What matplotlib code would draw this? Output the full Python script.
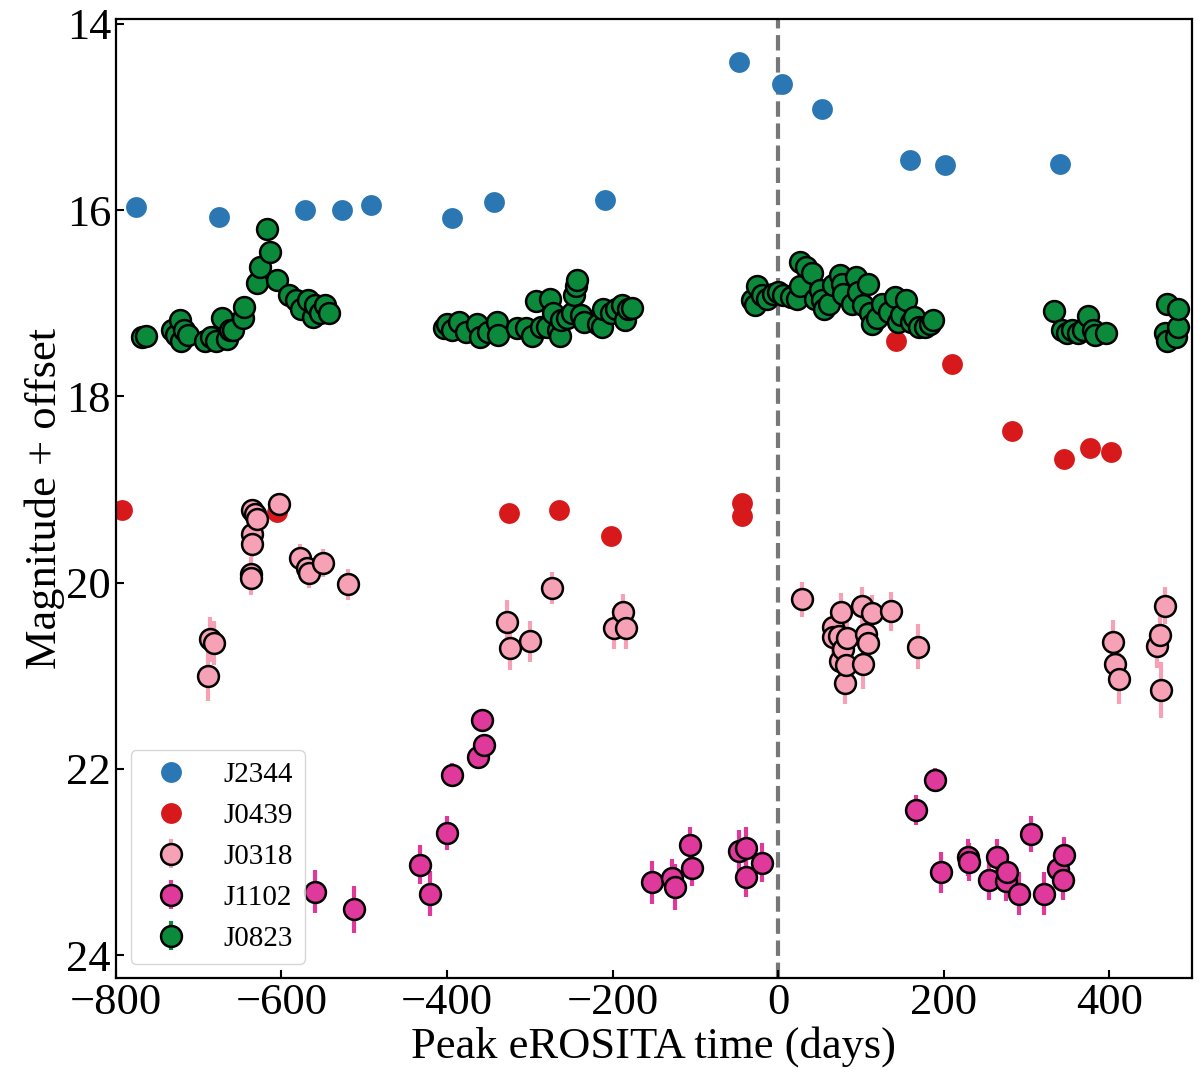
import matplotlib
matplotlib.use("Agg")
import matplotlib.pyplot as plt

plt.rcParams['font.family'] = ['Liberation Serif', 'DejaVu Serif']
plt.rcParams['mathtext.fontset'] = 'stix'

# J2344 (blue, no error bars)
j2344_t = [-776, -676, -571, -527, -492, -394, -343, -209, -47, 5, 53, 159, 202, 340]
j2344_m = [15.97, 16.07, 16.00, 16.00, 15.95, 16.08, 15.91, 15.89, 14.41, 14.64, 14.91,
           15.46, 15.51, 15.50]

# J0439 (red, no error bars)
j0439_t = [-793, -605, -325, -265, -202, -44, -44, 143, 210, 282, 345, 377, 402]
j0439_m = [19.22, 19.24, 19.25, 19.22, 19.50, 19.14, 19.28, 17.41, 17.65, 18.37, 18.67,
           18.55, 18.60]

# J0318 (light pink)
j0318_t = [-689, -686, -682, -637, -637, -635, -635, -635, -632, -629, -603, -578, -569,
           -567, -550, -520, -327, -324, -300, -273, -198, -187, -184, 29, 66, 66, 74,
           74.5, 76, 78, 81, 82, 83, 101, 102, 106, 109, 113, 136, 169, 405, 407, 412,
           458, 461, 462, 468]
j0318_m = [21.00, 20.61, 20.65, 19.91, 19.95, 19.22, 19.48, 19.59, 19.26, 19.32, 19.16,
           19.74, 19.84, 19.90, 19.79, 20.02, 20.42, 20.70, 20.63, 20.06, 20.49, 20.32,
           20.49, 20.18, 20.48, 20.58, 20.57, 20.84, 20.32, 20.71, 21.08, 20.89, 20.60,
           20.25, 20.87, 20.55, 20.65, 20.33, 20.31, 20.69, 20.64, 20.87, 21.03, 20.68,
           20.56, 21.15, 20.25]
j0318_e = [0.27, 0.24, 0.24, 0.18, 0.18, 0.08, 0.10, 0.14, 0.08, 0.10, 0.06, 0.15, 0.15,
           0.16, 0.15, 0.17, 0.23, 0.24, 0.22, 0.17, 0.22, 0.20, 0.22, 0.19, 0.20, 0.20,
           0.20, 0.20, 0.21, 0.20, 0.22, 0.20, 0.20, 0.20, 0.27, 0.20, 0.20, 0.20, 0.21,
           0.24, 0.24, 0.24, 0.27, 0.24, 0.22, 0.30, 0.20]

# J1102 (magenta)
j1102_t = [-559, -512, -433, -420, -400, -394, -362, -355, -358, -152, -128, -125, -107,
           -104, -47, -39, -39, -20, 167, 189, 197, 229, 231, 255, 264, 275, 277, 291,
           305, 321, 338, 344, 345]
j1102_m = [23.32, 23.51, 23.03, 23.34, 22.69, 22.07, 21.87, 21.74, 21.48, 23.22, 23.17,
           23.27, 22.82, 23.06, 22.88, 22.85, 23.16, 23.01, 22.44, 22.12, 23.11, 22.95,
           23.00, 23.19, 22.95, 23.20, 23.11, 23.34, 22.70, 23.34, 23.08, 23.19, 22.93]
j1102_e = [0.23, 0.25, 0.21, 0.24, 0.18, 0.13, 0.10, 0.10, 0.08, 0.23, 0.20, 0.25, 0.20,
           0.20, 0.22, 0.22, 0.22, 0.21, 0.16, 0.13, 0.22, 0.20, 0.20, 0.22, 0.20, 0.22,
           0.20, 0.23, 0.19, 0.23, 0.20, 0.22, 0.20]

# J0823 (green)
j0823_t = [-769, -764, -732, -728, -723, -721, -718, -713, -692, -685, -679, -672, -666,
           -662, -658, -647, -645, -629, -626, -618, -614, -605, -591, -583, -577, -568,
           -562, -559, -553, -547, -543,
           -404, -400, -394, -385, -377, -364, -360, -351, -340, -338, -315, -304, -297,
           -292, -287, -279, -275, -272, -266, -264, -262, -255, -249, -247, -244, -243,
           -238, -234, -217, -213, -211, -202, -196, -189, -185, -181, -177,
           -32, -28, -26, -19, -13, -6, 0, 6, 15, 23, 26, 27, 34, 41, 45, 51, 53, 55, 62,
           66, 75, 77, 78, 89, 94, 96, 102, 109, 111, 113, 119, 126, 134, 141, 145, 149,
           155, 160, 164, 170, 177, 183, 187,
           333, 343, 349, 355, 362, 368, 375, 381, 383, 396, 468, 470, 470, 481, 483, 483]
j0823_m = [17.36, 17.35, 17.29, 17.34, 17.18, 17.41, 17.29, 17.34, 17.41, 17.36, 17.41,
           17.16, 17.38, 17.29, 17.29, 17.16, 17.04, 16.78, 16.61, 16.20, 16.45, 16.75,
           16.91, 16.97, 17.06, 16.97, 17.15, 17.02, 17.11, 17.02, 17.10,
           17.27, 17.22, 17.29, 17.20, 17.31, 17.22, 17.36, 17.31, 17.20, 17.34, 17.27,
           17.27, 17.35, 16.98, 17.25, 17.25, 16.95, 17.11, 17.29, 17.35, 17.18, 17.16,
           17.11, 16.91, 16.81, 16.75, 17.13, 17.20, 17.22, 17.25, 17.06, 17.11, 17.06,
           17.02, 17.18, 17.06, 17.05,
           16.97, 17.02, 16.82, 16.91, 16.95, 16.90, 16.88, 16.91, 16.93, 16.95, 16.56,
           16.82, 16.61, 16.68, 16.95, 16.86, 16.97, 17.06, 17.01, 16.80, 16.70, 16.79,
           16.90, 17.01, 16.72, 16.88, 17.02, 16.79, 17.11, 17.22, 17.16, 17.01, 17.09,
           16.93, 17.20, 17.13, 16.97, 17.20, 17.15, 17.25, 17.25, 17.22, 17.18,
           17.08, 17.29, 17.32, 17.29, 17.32, 17.29, 17.14, 17.29, 17.34, 17.32, 17.32,
           17.01, 17.40, 17.36, 17.25, 17.06]
j0823_err = 0.03

fig = plt.figure(figsize=(12, 10.88), dpi=100)
ax = fig.add_axes([0.0966, 0.1008, 0.8967, 0.8815])

ms = 15
ax.plot(j2344_t, j2344_m, 'o', color='#2a77b4', ms=ms, mec='none', label='J2344')
ax.plot(j0439_t, j0439_m, 'o', color='#d7191c', ms=ms, mec='none', label='J0439')
ax.errorbar(j0318_t, j0318_m, yerr=j0318_e, fmt='o', color='#f7a1b7', ecolor='#f7a1b7',
            elinewidth=3, ms=ms, mec='black', mew=1.8, label='J0318')
ax.errorbar(j1102_t, j1102_m, yerr=j1102_e, fmt='o', color='#df3a9b', ecolor='#df3a9b',
            elinewidth=3, ms=ms, mec='black', mew=1.8, label='J1102')
ax.errorbar(j0823_t, j0823_m, yerr=j0823_err, fmt='o', color='#0a8a3a', ecolor='#0a8a3a',
            elinewidth=3, ms=ms, mec='black', mew=1.8, label='J0823')

ax.axvline(0, color='#777777', linestyle='--', lw=3, zorder=0)

ax.set_xlim(-800, 500)
ax.set_ylim(24.25, 13.95)
ax.set_xticks([-800, -600, -400, -200, 0, 200, 400])
ax.set_yticks([14, 16, 18, 20, 22, 24])
ax.tick_params(direction='in', length=6, width=1.5, labelsize=32)
for s in ax.spines.values():
    s.set_linewidth(1.6)

ax.set_xlabel('Peak eROSITA time (days)', fontsize=32, labelpad=2)
ax.set_ylabel('Magnitude + offset', fontsize=32, labelpad=1)

ax.legend(loc='lower left', fontsize=21, borderaxespad=0.5)

fig.savefig('out.png', dpi=100)
